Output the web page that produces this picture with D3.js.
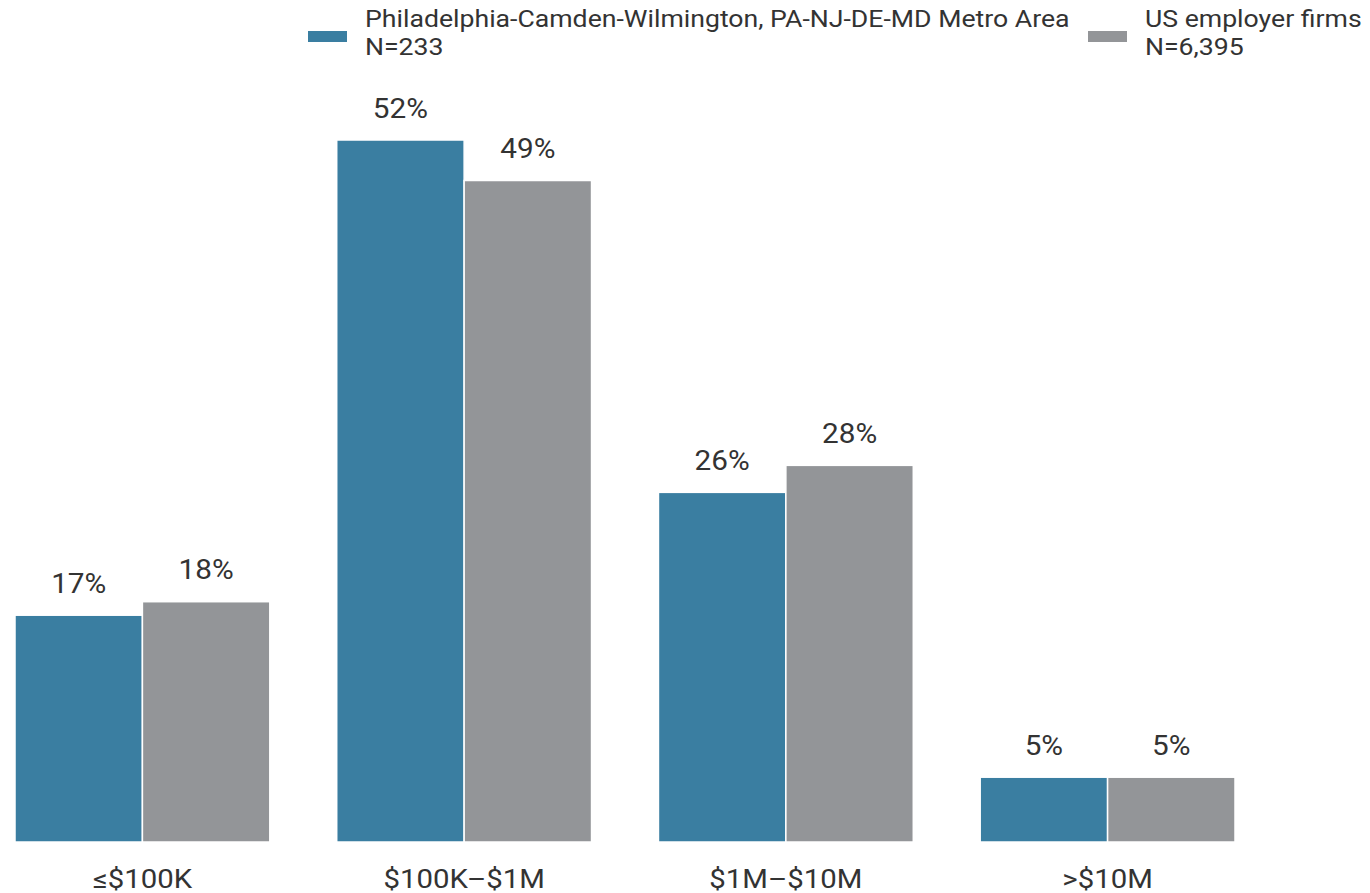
<!DOCTYPE html>
<html><head><meta charset="utf-8">
<script src="https://cdn.jsdelivr.net/npm/d3@7"></script>
<style>
html,body{margin:0;padding:0;background:#fff;}
svg{display:block;font-family:Roboto,"Noto Sans",sans-serif;}
</style></head>
<body><svg id="chart" width="1370" height="893"></svg>
<script>
const categories = ["≤$100K", "$100K–$1M", "$1M–$10M", ">$10M"];
const seriesNames = ["Philadelphia-Camden-Wilmington, PA-NJ-DE-MD Metro Area", "US employer firms"];
const seriesN = ["N=233", "N=6,395"];
const metroValues = [0.168, 0.52, 0.259, 0.048];
const usValues = [0.178, 0.49, 0.279, 0.048];
const colors = ["#3a7ea1", "#939598"];

const svg = d3.select("#chart");
const baseY = 842;
const SX = 1.1;
const x0 = d3.scaleBand().domain(categories).range([15, 1235]).paddingInner(0.208).paddingOuter(0);
const x1 = d3.scaleBand().domain([0, 1]).range([0, x0.bandwidth()]).padding(0);
const y = d3.scaleLinear().domain([0, 0.6]).range([baseY, 32]);
const fmt = d3.format(".0%");

const data = categories.map((c, i) => ({cat: c, vals: [metroValues[i], usValues[i]]}));

const g = svg.append("g");
const groups = g.selectAll("g.grp").data(data).join("g")
  .attr("transform", d => `translate(${x0(d.cat)},0)`);

groups.selectAll("rect").data(d => d.vals.map((v, s) => ({v, s}))).join("rect")
  .attr("x", d => x1(d.s))
  .attr("y", d => y(d.v))
  .attr("width", x1.bandwidth())
  .attr("height", d => y(0) - y(d.v))
  .attr("fill", d => colors[d.s])
  .attr("stroke", "#fff")
  .attr("stroke-width", 1.5);

groups.selectAll("g.val").data(d => d.vals.map((v, s) => ({v, s}))).join("g")
  .attr("class", "val")
  .attr("transform", d => `translate(${x1(d.s) + x1.bandwidth() / 2},${y(d.v) - 22.5}) scale(${SX},1)`)
  .append("text")
  .attr("text-anchor", "middle")
  .attr("font-size", 27)
  .attr("fill", "#333")
  .text(d => fmt(d.v));

const xAxis = d3.axisBottom(x0).tickSize(0).tickPadding(0);
const ax = svg.append("g").attr("transform", `translate(0,${baseY})`).call(xAxis);
ax.select(".domain").remove();
ax.selectAll(".tick text").attr("font-size", 26).attr("fill", "#333")
  .attr("font-family", "Roboto").attr("dy", null).attr("y", 0)
  .attr("transform", `translate(0,46) scale(${SX + 0.03},1)`);

// Legend
const legendX = [308, 1088];
const leg = svg.append("g");
seriesNames.forEach((name, i) => {
  const lg = leg.append("g").attr("transform", `translate(${legendX[i]},0)`);
  lg.append("rect").attr("x", 0).attr("y", 31).attr("width", 39).attr("height", 11).attr("fill", colors[i]);
  const tg = lg.append("g").attr("transform", `translate(57,0) scale(${SX + 0.01},1)`);
  const t = tg.append("text").attr("font-size", 24).attr("fill", "#333");
  t.append("tspan").attr("x", 0).attr("y", 27).text(name);
  t.append("tspan").attr("x", 0).attr("y", 55.5).text(seriesN[i]);
});
</script></body></html>
